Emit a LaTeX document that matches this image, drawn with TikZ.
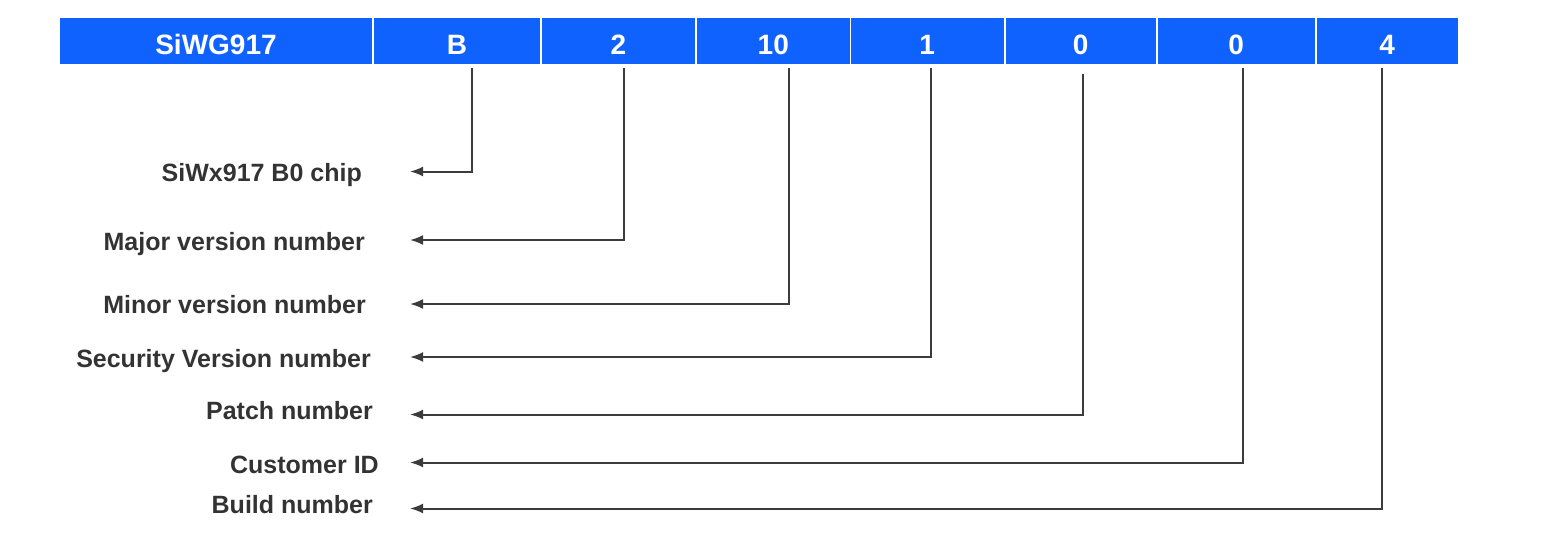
\documentclass[tikz,border=0pt]{standalone}
\usepackage{fontspec}
\setmainfont{Liberation Sans}
\usetikzlibrary{arrows.meta}
\definecolor{barblue}{HTML}{1062FE}
\definecolor{labelgray}{HTML}{333333}
\definecolor{linegray}{HTML}{3C3C3C}
\tikzset{
  cell/.style={fill=barblue,text=white,inner sep=0pt,minimum height=46pt,
    text height=26pt,text depth=0pt,font=\fontsize{28}{32}\selectfont\bfseries},
  field/.style={anchor=base east,text=labelgray,inner sep=0pt,
    font=\fontsize{25}{30}\selectfont\bfseries},
  pointer/.style={draw=linegray,line width=2pt,-{Latex[length=13pt,width=10pt]}}
}
\begin{document}
\begin{tikzpicture}[x=1pt,y=-1pt]
			\useasboundingbox (0,0) rectangle (1558,538);
			\node[cell,minimum width=312pt] (chip) at (216,41) {SiWG917};
			\node[cell,minimum width=166pt] (rev) at (457,41) {B};
			\node[cell,minimum width=153pt] (major) at (618.5,41) {2};
			\node[cell,minimum width=152.5pt] (minor) at (773.25,41) {10};
			\node[cell,minimum width=152.5pt] (sec) at (927.25,41) {1};
			\node[cell,minimum width=150.5pt] (patch) at (1080.75,41) {0};
			\node[cell,minimum width=156.5pt] (cust) at (1236.25,41) {0};
			\node[cell,minimum width=140.5pt] (build) at (1387.25,41) {4};
			
			\node[field] (Lrev) at (362,181) {SiWx917 B0 chip};
			\node[field] (Lmajor) at (365,250) {Major version number};
			\node[field] (Lminor) at (366,313) {Minor version number};
			\node[field] (Lsec) at (371,367) {Security Version number};
			\node[field] (Lpatch) at (373,419) {Patch number};
			\node[field] (Lcust) at (379,473) {Customer ID};
			\node[field] (Lbuild) at (373,513) {Build number};
			
			\coordinate (Trev) at (472,68);
			\coordinate (Tmajor) at (624,68);
			\coordinate (Tminor) at (789,68);
			\coordinate (Tsec) at (931,68);
			\coordinate (Tpatch) at (1083,74);
			\coordinate (Tcust) at (1243,68);
			\coordinate (Tbuild) at (1382,68);
			\coordinate (Erev) at (410,171.5);
			\coordinate (Emajor) at (410,240);
			\coordinate (Eminor) at (410,304);
			\coordinate (Esec) at (410,357);
			\coordinate (Epatch) at (410,414.5);
			\coordinate (Ecust) at (410,462.5);
			\coordinate (Ebuild) at (410,508.5);
			
			\draw[pointer] (Trev) |- (Erev);
			\draw[pointer] (Tmajor) |- (Emajor);
			\draw[pointer] (Tminor) |- (Eminor);
			\draw[pointer] (Tsec) |- (Esec);
			\draw[pointer] (Tpatch) |- (Epatch);
			\draw[pointer] (Tcust) |- (Ecust);
			\draw[pointer] (Tbuild) |- (Ebuild);
		\end{tikzpicture}
\end{document}
